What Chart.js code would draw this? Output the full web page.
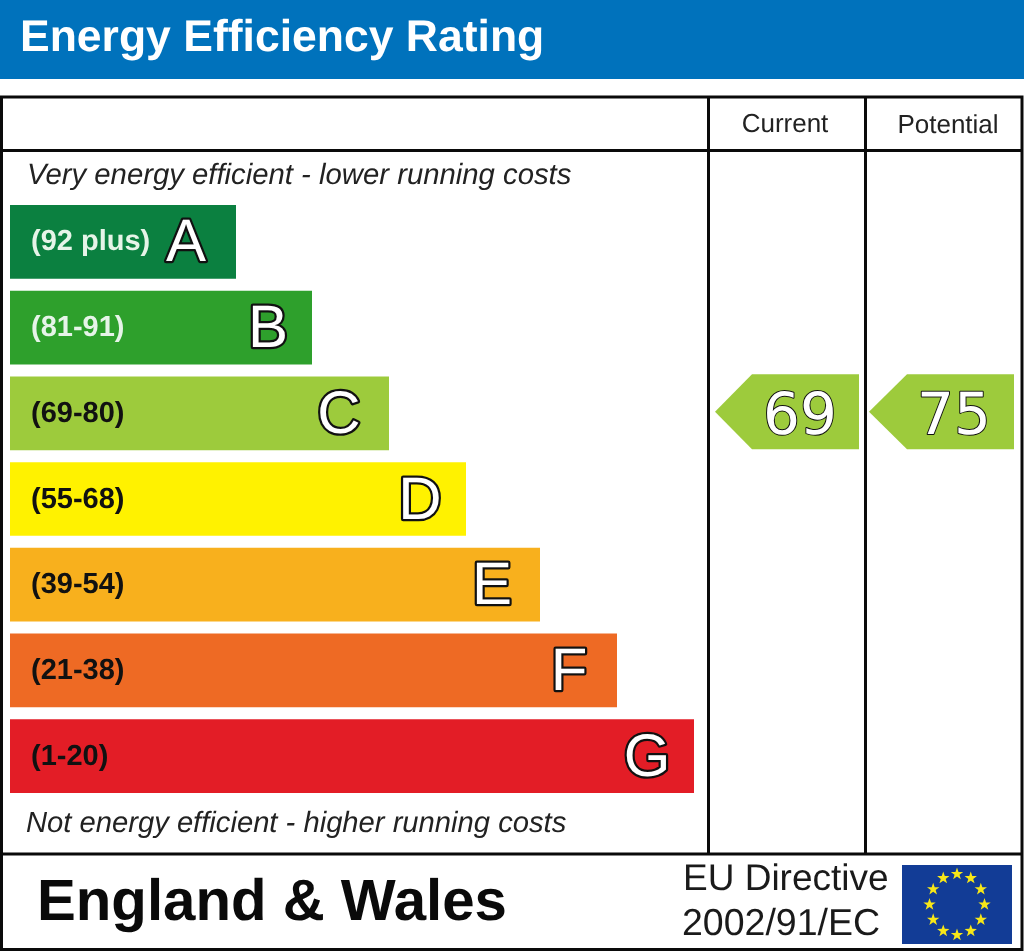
<!DOCTYPE html>
<html>
<head>
<meta charset="utf-8">
<title>Energy Efficiency Rating</title>
<script src="https://cdn.jsdelivr.net/npm/chart.js@4/dist/chart.umd.js"></script>
<style>
  html, body { margin: 0; padding: 0; background: #fff; overflow: hidden; }
  canvas { display: block; }
</style>
</head>
<body>
<canvas id="chart" width="1024" height="952"></canvas>
<script>
const bands = ["A", "B", "C", "D", "E", "F", "G"];
const bandRanges = ["(92 plus)", "(81-91)", "(69-80)", "(55-68)", "(39-54)", "(21-38)", "(1-20)"];
const bandFloors = [92, 81, 69, 55, 39, 21, 1];
const barLengths = [226, 302, 379, 456, 530, 607, 684];
const barColors = ["#0b8040", "#2ea02c", "#9dcb3c", "#fff200", "#f8b01d", "#ee6a24", "#e31d26"];
const rangeColors = ["#e6f4e8", "#e6f4e8", "#111", "#111", "#111", "#111", "#111"];
const currentRating = 69;
const potentialRating = 75;

const SANS = '"Liberation Sans", Arial, sans-serif';
// distance from the bar end to the middle of its letter
const letterInset = [50, 44, 50, 46, 48, 48, 47];

function text(ctx, str, x, y, font, color, align) {
  ctx.font = font;
  ctx.fillStyle = color;
  ctx.textAlign = align || "left";
  ctx.textBaseline = "alphabetic";
  ctx.fillText(str, x, y);
}

function outlined(ctx, str, x, y, font, lineWidth, align) {
  ctx.font = font;
  ctx.textAlign = align || "left";
  ctx.textBaseline = "alphabetic";
  ctx.lineJoin = "round";
  ctx.lineWidth = lineWidth;
  ctx.strokeStyle = "#111";
  ctx.strokeText(str, x, y);
  ctx.fillStyle = "#fff";
  ctx.fillText(str, x, y);
}

function frameLine(ctx, x1, y1, x2, y2) {
  ctx.beginPath();
  ctx.moveTo(x1, y1);
  ctx.lineTo(x2, y2);
  ctx.stroke();
}

function bandOf(rating) {
  return bandFloors.findIndex((f) => rating >= f);
}

function ratingArrow(chart, rating, tip, notch, right, textX) {
  const { ctx, scales } = chart;
  const cy = scales.y.getPixelForValue(bandOf(rating)) - 1.5;
  const half = 37.5;
  ctx.fillStyle = barColors[bandOf(rating)];
  ctx.beginPath();
  ctx.moveTo(tip, cy);
  ctx.lineTo(notch, cy - half);
  ctx.lineTo(right, cy - half);
  ctx.lineTo(right, cy + half);
  ctx.lineTo(notch, cy + half);
  ctx.closePath();
  ctx.fill();
  outlined(ctx, String(rating), textX, cy + 22, '58px "DejaVu Sans", sans-serif', 2, "center");
}

function flag(ctx) {
  const x = 902, y = 865, w = 110, h = 79;
  const cx = 957, cy = 904.5, rx = 27.5, ry = 30.5;
  ctx.fillStyle = "#123c96";
  ctx.fillRect(x, y, w, h);
  ctx.fillStyle = "#f7e718";
  for (let i = 0; i < 12; i++) {
    const a = (i * Math.PI) / 6;
    const sx = cx + rx * Math.sin(a);
    const sy = cy - ry * Math.cos(a);
    ctx.beginPath();
    for (let k = 0; k < 10; k++) {
      const rad = k % 2 ? 2.6 : 6.5;
      const t = (k * Math.PI) / 5;
      ctx.lineTo(sx + rad * Math.sin(t), sy - rad * Math.cos(t));
    }
    ctx.closePath();
    ctx.fill();
  }
}

const epcPlugin = {
  id: "epc",
  beforeDatasetsDraw(chart) {
    const { ctx, width, height } = chart;
    ctx.save();
    ctx.textRendering = "geometricPrecision";
    ctx.fillStyle = "#fff";
    ctx.fillRect(0, 0, width, height);
    ctx.fillStyle = "#0072bc";
    ctx.fillRect(0, 0, width, 79);
    text(ctx, "Energy Efficiency Rating", 20, 51, "bold 44.5px " + SANS, "#fff");
    ctx.restore();
  },
  afterDatasetsDraw(chart) {
    const { ctx, scales } = chart;
    ctx.save();
    ctx.textRendering = "geometricPrecision";

    // frame
    ctx.strokeStyle = "#0a0a0a";
    ctx.lineWidth = 3;
    ctx.strokeRect(1.5, 97, 1020.5, 852.5);
    frameLine(ctx, 1, 150.5, 1023, 150.5);
    frameLine(ctx, 1, 854, 1023, 854);
    frameLine(ctx, 708.5, 97, 708.5, 854);
    frameLine(ctx, 865.5, 97, 865.5, 854);

    // headings
    text(ctx, "Current", 785, 132, "26px " + SANS, "#222", "center");
    text(ctx, "Potential", 948, 133, "26px " + SANS, "#222", "center");
    text(ctx, "Very energy efficient - lower running costs", 27, 184, "italic 29.3px " + SANS, "#222");
    text(ctx, "Not energy efficient - higher running costs", 26, 832, "italic 29.2px " + SANS, "#222");

    // band labels
    bands.forEach((b, i) => {
      const cy = scales.y.getPixelForValue(i);
      text(ctx, bandRanges[i], 31, cy + 8.5, "bold 29px " + SANS, rangeColors[i]);
      const x = scales.x.getPixelForValue(barLengths[i]) - letterInset[i];
      outlined(ctx, b, x, cy + 19.5, "60px " + SANS, 4.5, "center");
    });

    ratingArrow(chart, currentRating, 715, 752, 859, 800);
    ratingArrow(chart, potentialRating, 869, 907, 1014, 954);

    // footer
    text(ctx, "England & Wales", 37, 920, "bold 58.2px " + SANS, "#0a0a0a");
    text(ctx, "EU Directive", 683, 890, "37px " + SANS, "#1a1a1a");
    text(ctx, "2002/91/EC", 682, 935, "37.5px " + SANS, "#1a1a1a");
    flag(ctx);
    ctx.restore();
  },
};

new Chart(document.getElementById("chart"), {
  type: "bar",
  data: {
    labels: bands,
    datasets: [{
      data: barLengths,
      backgroundColor: barColors,
      borderWidth: 0,
      barPercentage: 0.86,
      categoryPercentage: 1,
    }],
  },
  options: {
    indexAxis: "y",
    responsive: false,
    animation: false,
    layout: { padding: { left: 10, right: 330, top: 199, bottom: 153 } },
    plugins: { legend: { display: false }, tooltip: { enabled: false } },
    scales: {
      x: { display: false, min: 0, max: 684 },
      y: { display: false },
    },
  },
  plugins: [epcPlugin],
});
</script>
</body>
</html>
